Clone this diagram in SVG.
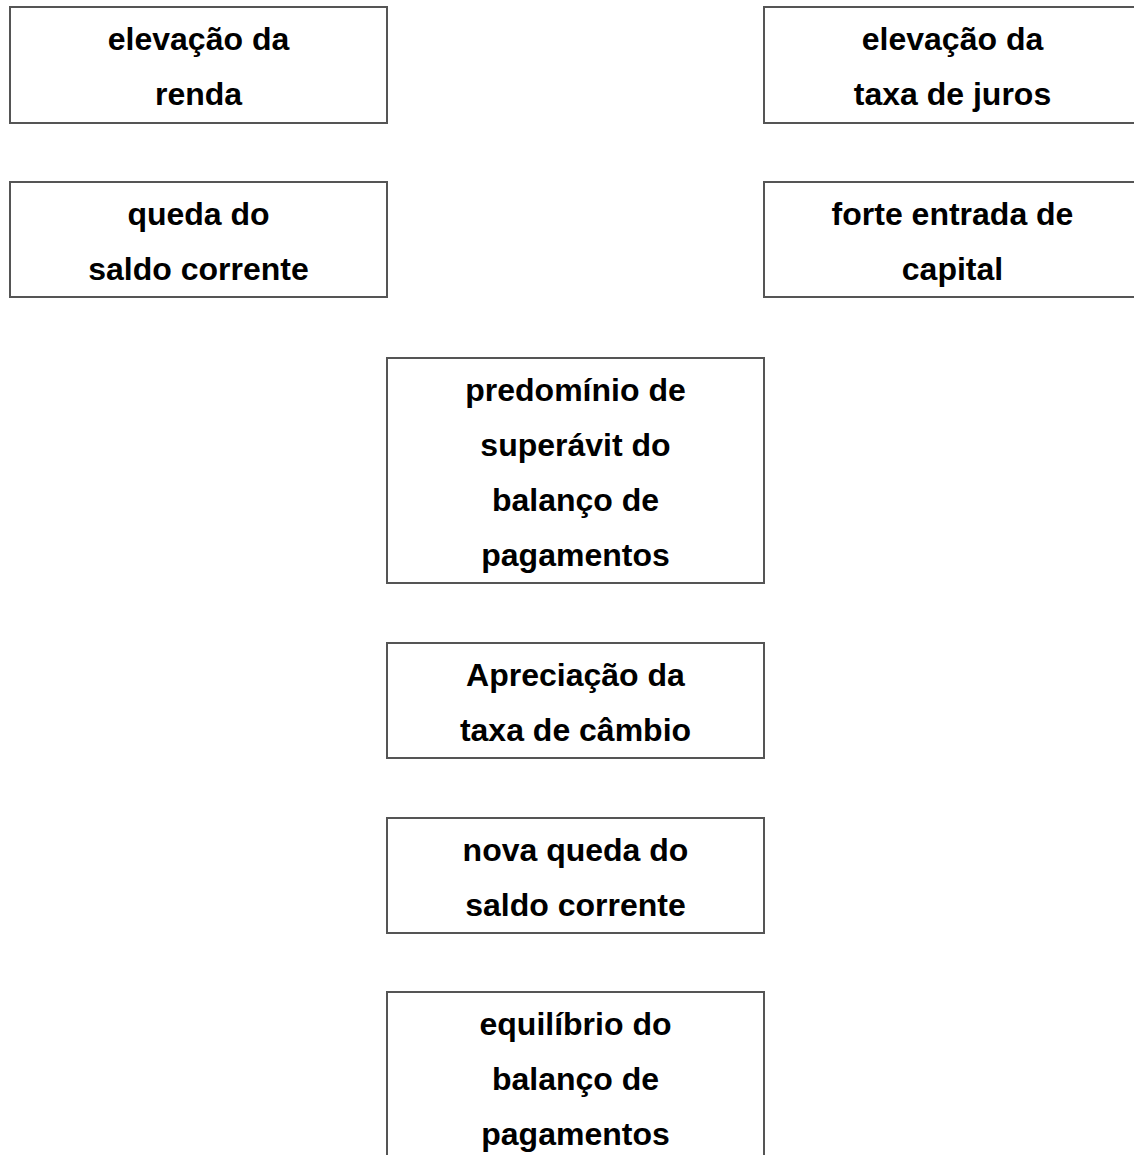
<svg xmlns="http://www.w3.org/2000/svg" width="1134" height="1155" viewBox="0 0 1134 1155">
<style>
.box{fill:#ffffff;stroke:#555555;stroke-width:2}
.t{font-family:"Liberation Sans",Arial,sans-serif;font-weight:bold;font-size:32px;fill:#000000;text-anchor:middle}
</style>
<rect width="1134" height="1155" fill="#ffffff"/>
<g id="connectors"></g>
<g id="n1">
<rect class="box" x="10" y="7" width="377" height="116"/>
<text class="t" x="198.5" y="50">elevação da</text>
<text class="t" x="198.5" y="105">renda</text>
</g>
<g id="n2">
<rect class="box" x="764" y="7" width="377" height="116"/>
<text class="t" x="952.5" y="50">elevação da</text>
<text class="t" x="952.5" y="105">taxa de juros</text>
</g>
<g id="n3">
<rect class="box" x="10" y="182" width="377" height="115"/>
<text class="t" x="198.5" y="225">queda do</text>
<text class="t" x="198.5" y="280">saldo corrente</text>
</g>
<g id="n4">
<rect class="box" x="764" y="182" width="377" height="115"/>
<text class="t" x="952.5" y="225">forte entrada de</text>
<text class="t" x="952.5" y="280">capital</text>
</g>
<g id="n5">
<rect class="box" x="387" y="358" width="377" height="225"/>
<text class="t" x="575.5" y="401">predomínio de</text>
<text class="t" x="575.5" y="456">superávit do</text>
<text class="t" x="575.5" y="511">balanço de</text>
<text class="t" x="575.5" y="566">pagamentos</text>
</g>
<g id="n6">
<rect class="box" x="387" y="643" width="377" height="115"/>
<text class="t" x="575.5" y="686">Apreciação da</text>
<text class="t" x="575.5" y="741">taxa de câmbio</text>
</g>
<g id="n7">
<rect class="box" x="387" y="818" width="377" height="115"/>
<text class="t" x="575.5" y="861">nova queda do</text>
<text class="t" x="575.5" y="916">saldo corrente</text>
</g>
<g id="n8">
<rect class="box" x="387" y="992" width="377" height="200"/>
<text class="t" x="575.5" y="1035">equilíbrio do</text>
<text class="t" x="575.5" y="1090">balanço de</text>
<text class="t" x="575.5" y="1145">pagamentos</text>
</g>
</svg>
